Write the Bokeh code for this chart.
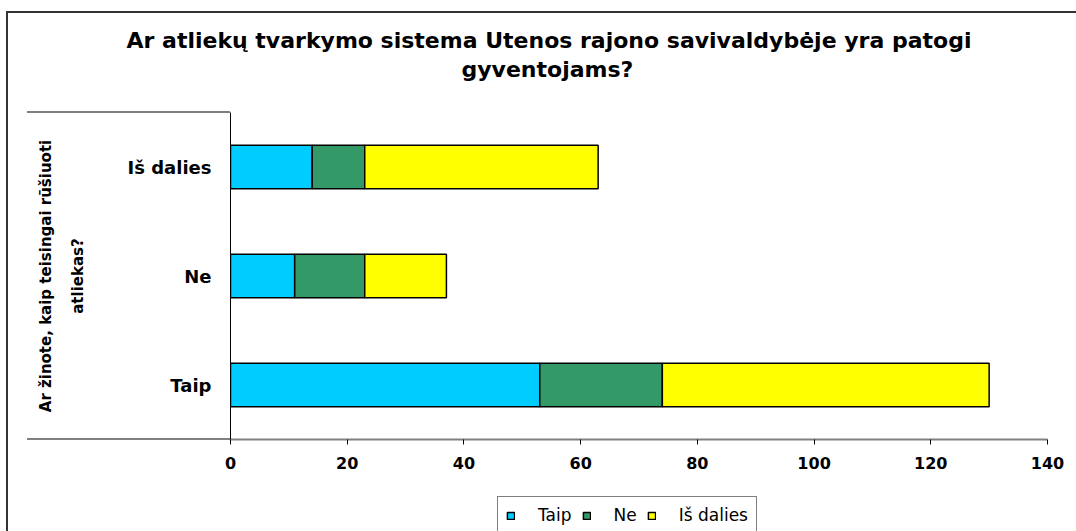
from bokeh.plotting import figure
from bokeh.layouts import column
from bokeh.models import (ColumnDataSource, FactorRange, Range1d, Legend, LegendItem,
                          Title, SingleIntervalTicker, InlineStyleSheet)
from bokeh.embed import file_html
from bokeh.resources import INLINE

# ---- data ----
title_lines = ["Ar atliekų tvarkymo sistema Utenos rajono savivaldybėje yra patogi",
               "gyventojams?"]
y_title = "Ar žinote, kaip teisingai rūšiuoti\natliekas?"
categories = ["Taip", "Ne", "Iš dalies"]          # bottom -> top
series = ["Taip", "Ne", "Iš dalies"]
taip = [53, 11, 14]
ne = [21, 12, 9]
is_dalies = [56, 14, 40]
x_max = 140
x_step = 20

colors = ["#00CCFF", "#339966", "#FFFF00"]
FONT = "DejaVu Sans"

src = ColumnDataSource(dict(cat=categories, s0=taip, s1=ne, s2=is_dalies))

p = figure(width=1076, height=496,
           y_range=FactorRange(factors=categories),
           x_range=Range1d(0, x_max),
           output_backend="svg", toolbar_location=None,
           min_border_left=230, min_border_right=29,
           min_border_top=112, min_border_bottom=57)
p.outline_line_color = None
p.xgrid.visible = False
p.ygrid.visible = False
p.background_fill_color = "white"
p.border_fill_color = "white"

rs = p.hbar_stack(["s0", "s1", "s2"], y="cat", height=0.4, source=src,
                  fill_color=colors, line_color="black", line_width=1.5)

# x axis
xa = p.xaxis[0]
xa.ticker = SingleIntervalTicker(interval=x_step)
xa.axis_line_color = "#808080"
xa.axis_line_width = 2
xa.major_tick_line_color = "black"
xa.major_tick_out = 5
xa.major_tick_in = 0
xa.minor_tick_out = 0
xa.minor_tick_in = 0
xa.major_label_text_font = FONT
xa.major_label_text_font_style = "bold"
xa.major_label_text_font_size = "16px"
xa.major_label_text_color = "black"
xa.major_label_standoff = 12

# y axis
ya = p.yaxis[0]
ya.axis_line_color = "black"
ya.axis_line_width = 1
ya.major_tick_out = 0
ya.major_tick_in = 0
ya.major_label_standoff = 19
ya.major_label_text_font = FONT
ya.major_label_text_font_style = "bold"
ya.major_label_text_font_size = "18px"
ya.major_label_text_color = "black"
ya.axis_label = y_title
ya.axis_label_text_font = FONT
ya.axis_label_text_font_style = "bold"
ya.axis_label_text_font_size = "15px"
ya.axis_label_text_color = "black"
ya.axis_label_text_align = "center"
ya.axis_label_text_line_height = 1.77
ya.axis_label_standoff = 38

# title: two centred lines (outermost = first line)
tstyle = dict(text_font=FONT, text_font_style="bold", text_font_size="22px",
              text_color="black")
p.title.text = title_lines[0]
p.title.align = "left"
p.title.offset = -104
p.title.standoff = 2
for k, v in tstyle.items():
    setattr(p.title, k, v)
# nearest to the frame: spacer, then second line
p.add_layout(Title(text=" ", text_font_size="10px", standoff=17), "above")
p.add_layout(Title(text=title_lines[1], align="left", offset=231, standoff=2, **tstyle),
             "above")

# chart frame and category-group lines (decoration)
p.stylesheets = [InlineStyleSheet(css="""
:host::after { content: ""; position: absolute; box-sizing: border-box;
  left: 6px; top: 11px; right: 0px; bottom: 0px;
  border-left: 2px solid #333333; border-top: 2px solid #333333;
  background: transparent; pointer-events: none; z-index: 10; }
:host::before { content: ""; position: absolute; box-sizing: border-box;
  left: 27px; top: 111px; width: 203px; height: 329px;
  border-top: 2px solid #808080; border-bottom: 2px solid #808080;
  background: transparent; pointer-events: none; z-index: 10; }
""")]

# ---- legend strip (bottom of the chart) ----
p2 = figure(width=1076, height=35, title=None,
            y_range=FactorRange(factors=categories), x_range=Range1d(0, x_max),
            x_axis_location=None, y_axis_location=None,
            output_backend="svg", toolbar_location=None,
            min_border=0, min_border_left=0, min_border_right=0,
            min_border_top=0, min_border_bottom=0)
p2.outline_line_color = None
p2.xgrid.visible = False
p2.ygrid.visible = False
p2.background_fill_color = "white"
p2.border_fill_color = "white"
key_renderers = p2.hbar_stack(["s0", "s1", "s2"], y="cat", height=0.4, source=src,
                              fill_color=colors, line_color="black", line_width=1.5,
                              visible=False)
items = [LegendItem(label=s, renderers=[r]) for s, r in zip(series, key_renderers)]
legend = Legend(items=items, orientation="horizontal", location=(267, -3),
                border_line_color="black", border_line_width=1,
                background_fill_color="white", background_fill_alpha=1,
                padding=8, margin=0, spacing=10, label_standoff=23,
                glyph_width=9, glyph_height=9, click_policy="none",
                label_text_font=FONT, label_text_font_size="17px",
                label_text_color="black")
p2.add_layout(legend, "center")
p2.stylesheets = [InlineStyleSheet(css="""
:host::after { content: ""; position: absolute; box-sizing: border-box;
  left: 6px; top: 0px; width: 2px; bottom: 0px;
  background: #333333; pointer-events: none; z-index: 10; }
""")]

layout = column(p, p2, spacing=0)
open("out.html", "w").write(file_html(layout, INLINE))
